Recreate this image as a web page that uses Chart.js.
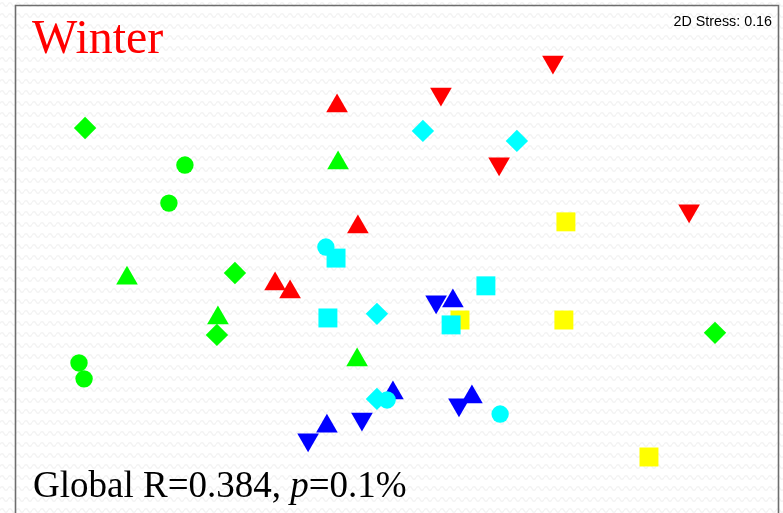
<!DOCTYPE html>
<html><head><meta charset="utf-8">
<script src="https://cdn.jsdelivr.net/npm/chart.js@4.4.0/dist/chart.umd.min.js"></script>
<style>html,body{margin:0;padding:0;background:#fff;overflow:hidden}canvas{display:block}</style>
</head><body><canvas id="c" width="783" height="513"></canvas>
<script>
// NMDS coordinates (arbitrary units) and sample factor (shape) per group
const redX = [-0.236, 0.173, 0.614, 0.402, -0.154, 1.150, -0.480, -0.421];
const redY = [0.611, 0.658, 0.782, 0.386, 0.140, 0.203, -0.082, -0.113];
const redShape = ['up','down','down','down','up','down','up','up'];

const greenX = [-1.228, -0.835, -0.898, -0.232, -1.063, -0.638, -0.705, -0.709, -1.252, -1.232, -0.157, 1.252];
const greenY = [0.525, 0.381, 0.233, 0.389, -0.059, -0.039, -0.214, -0.280, -0.389, -0.451, -0.378, -0.272];
const greenShape = ['diamond','circle','circle','up','up','diamond','up','diamond','circle','circle','up','diamond'];

const cyanX = [0.102, 0.472, -0.280, -0.240, 0.350, -0.272, -0.079, 0.213, -0.079, -0.039, 0.406];
const cyanY = [0.514, 0.475, 0.062, 0.019, -0.089, -0.214, -0.198, -0.241, -0.529, -0.533, -0.588];
const cyanShape = ['diamond','diamond','circle','square','square','square','diamond','square','diamond','circle','circle'];

const blueX = [0.154, 0.220, -0.016, 0.295, 0.244, -0.276, -0.138, -0.350];
const blueY = [-0.151, -0.148, -0.506, -0.522, -0.552, -0.635, -0.607, -0.688];
const blueShape = ['down','up','up','up','down','up','down','down'];

const yellowX = [0.665, 0.657, 0.248, 0.992];
const yellowY = [0.160, -0.222, -0.222, -0.755];
const yellowShape = ['square','square','square','square'];

const titleText = 'Winter';
const stressText = '2D Stress: 0.16';
const statPre = 'Global R=0.384, ';
const statP = 'p';
const statPost = '=0.1%';

const STYLE = {
  circle: {s:'circle', r:8.7, rot:0},
  up: {s:'triangle', r:12.5, rot:0},
  down: {s:'triangle', r:12.5, rot:180},
  diamond: {s:'rectRot', r:11.2, rot:0},
  square: {s:'rect', r:13.4, rot:0}
};

function makeSet(label, xs, ys, shapes, color) {
  return {
    label,
    data: xs.map((x, i) => ({x, y: ys[i]})),
    backgroundColor: color,
    pointBackgroundColor: color,
    pointBorderWidth: 0,
    pointStyle: shapes.map(s => STYLE[s].s),
    pointRadius: shapes.map(s => STYLE[s].r),
    pointRotation: shapes.map(s => STYLE[s].rot),
    showLine: false
  };
}

// background zigzag pattern
function makePattern(ctx) {
  const t = document.createElement('canvas');
  t.width = 8; t.height = 11;
  const g = t.getContext('2d');
  g.fillStyle = '#ffffff'; g.fillRect(0, 0, 8, 11);
  g.strokeStyle = '#f3f3f3'; g.lineWidth = 1.4;
  g.beginPath();
  g.moveTo(-2, 7);
  g.quadraticCurveTo(2, 0, 4, 4.5);
  g.quadraticCurveTo(6, 9, 10, 2);
  g.stroke();
  return ctx.createPattern(t, 'repeat');
}

const decor = {
  id: 'decor',
  beforeDraw(chart) {
    const ctx = chart.ctx;
    ctx.save();
    ctx.fillStyle = makePattern(ctx);
    ctx.fillRect(0, 0, chart.width, chart.height);
    ctx.restore();
  },
  beforeDatasetsDraw(chart) {
    const ctx = chart.ctx, a = chart.chartArea;
    ctx.save();
    ctx.strokeStyle = '#6e6e6e';
    ctx.lineWidth = 1.6;
    ctx.beginPath();
    ctx.moveTo(a.left - 0.5, a.bottom + 5);
    ctx.lineTo(a.left - 0.5, a.top - 0.5);
    ctx.lineTo(a.right + 0.5, a.top - 0.5);
    ctx.lineTo(a.right + 0.5, a.bottom + 5);
    ctx.stroke();
    ctx.restore();
  },
  afterDraw(chart) {
    const ctx = chart.ctx;
    ctx.save();
    ctx.textBaseline = 'alphabetic';
    ctx.fillStyle = '#ff0000';
    ctx.font = '48px "Liberation Serif"';
    ctx.textAlign = 'left';
    ctx.fillText(titleText, 32, 53);

    ctx.fillStyle = '#000000';
    ctx.font = '14.3px "Liberation Sans"';
    ctx.textAlign = 'right';
    ctx.fillText(stressText, 772, 26);

    ctx.textAlign = 'left';
    let x = 33;
    const y = 497;
    ctx.font = '37px "Liberation Serif"';
    ctx.fillText(statPre, x, y);
    x += ctx.measureText(statPre).width;
    ctx.font = 'italic 37px "Liberation Serif"';
    ctx.fillText(statP, x, y);
    x += ctx.measureText(statP).width;
    ctx.font = '37px "Liberation Serif"';
    ctx.fillText(statPost, x, y);
    ctx.restore();
  }
};

new Chart(document.getElementById('c'), {
  type: 'scatter',
  data: {
    datasets: [
      makeSet('Cyan', cyanX, cyanY, cyanShape, '#00ffff'),
      makeSet('Blue', blueX, blueY, blueShape, '#0000ff'),
      makeSet('Yellow', yellowX, yellowY, yellowShape, '#ffff00'),
      makeSet('Red', redX, redY, redShape, '#ff0000'),
      makeSet('Green', greenX, greenY, greenShape, '#00ff00')
    ]
  },
  options: {
    responsive: false,
    animation: false,
    events: [],
    layout: {autoPadding: false, padding: {left: 16, right: 5, top: 6, bottom: 0}},
    scales: {
      x: {type: 'linear', display: false, min: -1.5, max: 1.5},
      y: {type: 'linear', display: false, min: -0.973, max: 1.0}
    },
    plugins: {legend: {display: false}, tooltip: {enabled: false}, title: {display: false}}
  },
  plugins: [decor]
});
</script>
</body></html>
